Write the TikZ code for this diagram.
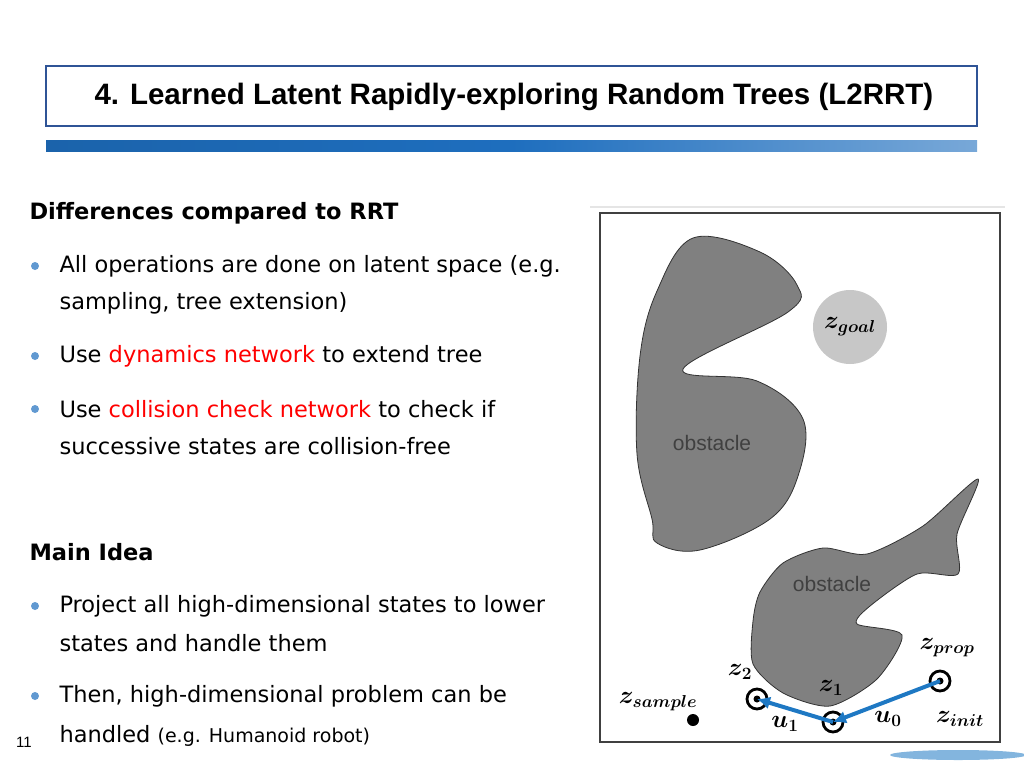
\documentclass[tikz,border=0pt]{standalone}
\usepackage{fontspec}
\usepackage{bm}
\setmainfont{DejaVu Sans}
\newfontfamily\titlefont{Liberation Sans}
\usetikzlibrary{arrows.meta}
\definecolor{titleblue}{RGB}{47,84,150}
\definecolor{barblue}{RGB}{30,110,190}
\definecolor{arrowblue}{RGB}{30,120,195}
\definecolor{obsgray}{RGB}{128,128,128}
\tikzset{
    body/.style={anchor=west,font=\fontsize{22.5}{26}\selectfont},
    head/.style={anchor=west,font=\fontsize{22.5}{26}\selectfont\bfseries},
    bulletdot/.style={circle,fill=barblue!70,inner sep=0pt,minimum size=8pt},
    obstacle/.style={fill=obsgray,draw=black!80,line width=0.8pt},
    ring/.style={circle,draw=black,line width=2.8pt,minimum size=20pt,inner sep=0pt},
    mlab/.style={font=\fontsize{25}{28}\selectfont},
    move/.style={draw=arrowblue,line width=4pt,-{Latex[length=13pt,width=13pt]}}
}
\begin{document}
\begin{tikzpicture}[x=1pt,y=-1pt]
        \useasboundingbox (0,0) rectangle (1024,768);
        % title
        \draw[titleblue,line width=1.5pt] (46,66) rectangle (977,126);
        \node[anchor=west,font=\fontsize{29.5}{32}\selectfont\titlefont\bfseries] (title) at (91,97)
            {4. Learned Latent Rapidly-exploring Random Trees (L2RRT)};
        \shade[left color=barblue!90!black,right color=barblue!60,middle color=barblue]
            (46,140) rectangle (977,151);
        \fill[arrowblue!55] (958,755) ellipse (68pt and 5pt);
        \node[font=\fontsize{15}{18}\selectfont\titlefont] (page) at (24,742) {11};
        % text
        \node[head] (diff) at (26,213) {Differences compared to RRT};
        \foreach \y in {266,356,409,606,696}
            \node[bulletdot] at (35,\y) {};
        \node[body] (b1) at (56,266) {All operations are done on latent space (e.g.};
        \node[body] (b1b) at (56,303) {sampling, tree extension)};
        \node[body] (b2) at (56,356) {Use \textcolor{red}{dynamics network} to extend tree};
        \node[body] (b3) at (56,409) {Use \textcolor{red}{collision check network} to check if};
        \node[body] (b3b) at (56,446) {successive states are collision-free};
        \node[head] (idea) at (26,552) {Main Idea};
        \node[body] (b4) at (56,606) {Project all high-dimensional states to lower};
        \node[body] (b4b) at (56,643) {states and handle them};
        \node[body] (b5) at (56,696) {Then, high-dimensional problem can be};
        \node[body] (b5b) at (56,736) {handled {\fontsize{19}{22}\selectfont(e.g. Humanoid robot)}};
        % map
        \draw[black!10,line width=2pt] (590,207) -- (1005,207);
        \draw[black!75,line width=2pt] (600,213) rectangle (1000,742);
        \draw[obstacle] plot[smooth cycle,tension=0.6] coordinates {
            (693,238) (760,252) (797,285) (788,312) (683,369) (757,381) (803,419) (798,476)
            (770,519) (700,550) (657,543) (652,519) (637,454) (640,356) (657,291)};
        \draw[obstacle] plot[smooth cycle,tension=0.45] coordinates {
            (783,563) (823,548) (867,554) (923,526) (978,479) (957,534) (958,574)
            (917,574) (870,606) (857,624) (902,635) (877,679) (830,706) (783,693)
            (753,664) (753,621) (760,592)};
        \node[font=\fontsize{21}{24}\selectfont\titlefont,text=black!75] (o1) at (712,443) {obstacle};
        \node[font=\fontsize{21}{24}\selectfont\titlefont,text=black!75] (o2) at (832,584) {obstacle};
        \fill[black!22] (850,327) circle (37pt);
        \node[mlab] (goal) at (850,327) {$\bm{z_{goal}}$};
        % tree
        \node[ring] (z2) at (757,699) {};
        \node[ring] (z1) at (833,722) {};
        \node[ring] (zi) at (940,681) {};
        \foreach \n in {z2,z1,zi} \fill (\n) circle (3.5pt);
        \fill (693,720) circle (6pt) coordinate (zs);
        \draw[move] (zi.center) -- (z1.center);
        \draw[move] (z1.center) -- (z2.center);
        \node[mlab] at (947,648) {$\bm{z_{prop}}$};
        \node[mlab] at (960,719) {$\bm{z_{init}}$};
        \node[mlab] at (831,688) {$\bm{z_{1}}$};
        \node[mlab] at (740,672) {$\bm{z_{2}}$};
        \node[mlab] at (658,702) {$\bm{z_{sample}}$};
        \node[mlab] at (785,724) {$\bm{u_{1}}$};
        \node[mlab] at (888,719) {$\bm{u_{0}}$};
    \end{tikzpicture}
\end{document}
